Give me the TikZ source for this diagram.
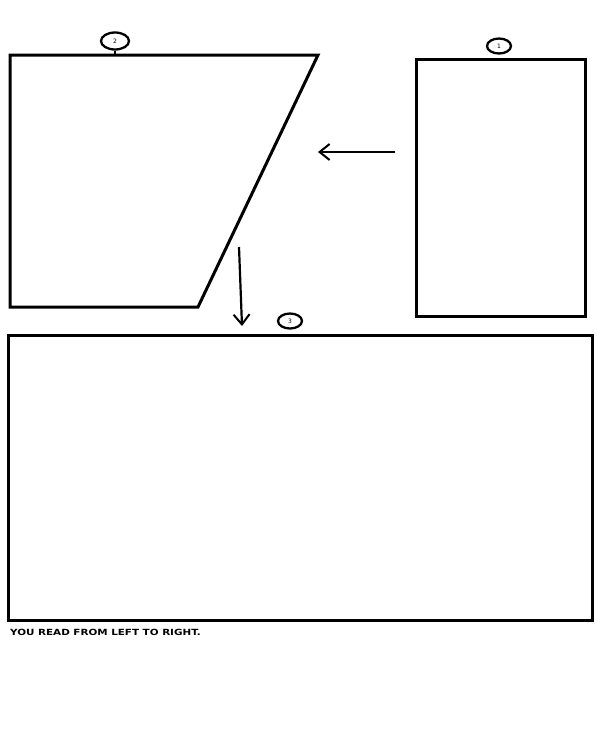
\documentclass[tikz,border=0pt]{standalone}
\usepackage{fontspec}
\setsansfont{DejaVu Sans}
\usetikzlibrary{arrows.meta,shapes.geometric}
\begin{document}
\begin{tikzpicture}[x=1pt,y=-1pt,
  panel/.style={draw=black,line width=3pt,line join=miter},
  badge/.style={draw=black,line width=2.3pt,ellipse,inner sep=0pt,minimum width=24pt,minimum height=15pt,font=\sffamily\fontsize{6}{6}\selectfont,fill=white},
  conn/.style={draw=black,line width=2.2pt,-{Straight Barb[length=10pt,width=16pt,line width=2pt]}}]
\useasboundingbox[fill=white] (0,0) rectangle (600,750);
% panel 2 (parallelogram)
\draw[panel] (10,55) coordinate (p2tl) -- (318,55) coordinate (p2tr) -- (198,307) coordinate (p2br) -- (10,307) coordinate (p2bl) -- cycle;
% panel 1
\draw[panel] (416,59) rectangle (585,316);
% panel 3
\draw[panel] (8,335) rectangle (592,620);
\draw[draw=black,line width=2pt] (593,335) -- (593,620);
% badges
\node[badge,minimum width=28pt,minimum height=17pt] (b2) at (115,41) {2};
\draw[line width=2pt] (b2.south) -- (115,55);
\node[badge] (b1) at (499,46) {1};
\node[badge] (b3) at (290,321) {3};
% arrows
\coordinate (a1s) at (395,152);
\coordinate (a1e) at (318,152);
\draw[conn] (a1s) -- (a1e);
\coordinate (a2s) at (239,247);
\coordinate (a2e) at (242,326);
\draw[conn] (a2s) -- (a2e);
% caption
\node[anchor=west,inner sep=0pt,font=\sffamily\bfseries\fontsize{8.5}{8.5}\selectfont] (cap) at (10,632) {\scalebox{1.22}[1]{YOU READ FROM LEFT TO RIGHT.}};
\end{tikzpicture}
\end{document}
